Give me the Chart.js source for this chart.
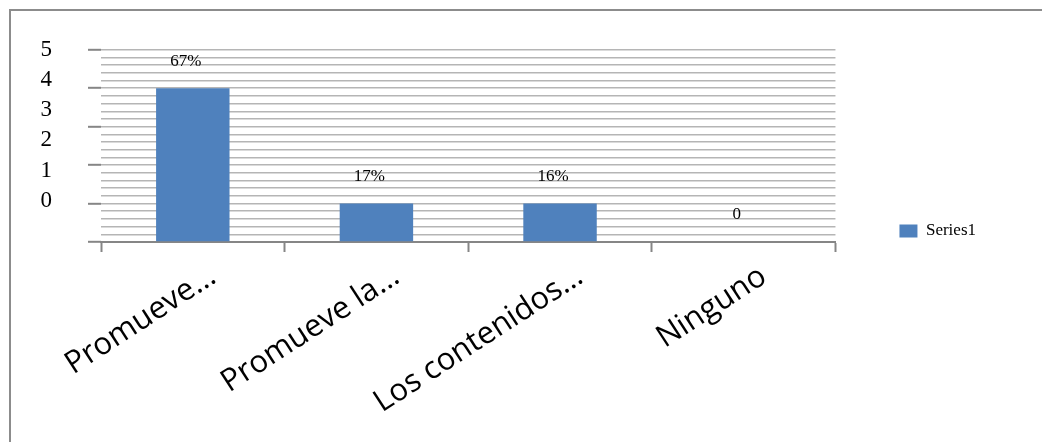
<!DOCTYPE html>
<html>
<head>
<meta charset="utf-8">
<script src="https://cdn.jsdelivr.net/npm/chart.js@4.4.1/dist/chart.umd.min.js"></script>
<style>
  html, body { margin: 0; padding: 0; background: #fff; overflow: hidden; }
  #frame { position: absolute; left: 9px; top: 9px; width: 1100px; height: 500px; border: 2px solid #8c8c8c; }
  #wrap { position: absolute; left: 0; top: 0; width: 1042px; height: 442px; }
</style>
</head>
<body>
<div id="frame"></div>
<div id="wrap"><canvas id="c"></canvas></div>
<script>
const categories = ['Promueve\u2026', 'Promueve la\u2026', 'Los contenidos\u2026', 'Ninguno'];
const seriesName = 'Series1';
const values = [4, 1, 1, 0];
const dataLabels = ['67%', '17%', '16%', '0'];
const yTickLabels = ['0', '1', '2', '3', '4', '5'];

const SERIF = '"Liberation Serif", "Times New Roman", serif';
const SANS = '"Open Sans", "Noto Sans", sans-serif';

const isWhole = v => Math.abs(v - Math.round(v)) < 1e-6;

const dataLabelPlugin = {
  id: 'dataLabelPlugin',
  afterDatasetsDraw(chart) {
    const ctx = chart.ctx;
    const meta = chart.getDatasetMeta(0);
    ctx.save();
    ctx.font = '17px ' + SERIF;
    ctx.fillStyle = '#000';
    ctx.textAlign = 'center';
    ctx.textBaseline = 'middle';
    meta.data.forEach((el, i) => {
      ctx.fillText(dataLabels[i], el.x - 7, el.y - 27);
    });
    ctx.restore();
  }
};

new Chart(document.getElementById('c'), {
  type: 'bar',
  data: {
    labels: categories,
    datasets: [{
      label: seriesName,
      data: values,
      yAxisID: 'y',
      backgroundColor: '#4f81bd',
      borderWidth: 0,
      barPercentage: 0.4,
      categoryPercentage: 1.0
    }]
  },
  options: {
    responsive: true,
    maintainAspectRatio: false,
    animation: false,
    layout: { padding: { left: 0, right: 56, top: 46, bottom: 26 } },
    plugins: {
      tooltip: { enabled: false },
      legend: {
        position: 'right',
        labels: {
          boxWidth: 18,
          boxHeight: 13,
          padding: 64,
          color: '#000',
          font: { family: SERIF, size: 17 }
        }
      }
    },
    scales: {
      x: {
        grid: {
          drawOnChartArea: false,
          drawTicks: true,
          tickLength: 10,
          tickColor: '#868686',
          tickWidth: 2,
          offset: true
        },
        border: { display: true, color: '#868686', width: 2 },
        ticks: {
          autoSkip: false,
          minRotation: 33,
          maxRotation: 33,
          labelOffset: 20,
          padding: 6,
          color: '#000',
          font: { family: SANS, size: 31 }
        },
        afterFit(scale) { scale.height = 174; }
      },
      y: {
        position: 'left',
        weight: 0,
        min: 0,
        max: 5,
        grid: {
          color: '#b5b5b5',
          lineWidth: 1.6,
          drawTicks: true,
          tickLength: 13,
          tickWidth: 2,
          tickColor: c => isWhole(c.tick.value) ? '#868686' : 'rgba(0,0,0,0)'
        },
        border: { display: false },
        ticks: {
          stepSize: 0.2,
          display: false
        },
        afterFit(scale) { scale.width = 13; }
      },
      yl: {
        position: 'left',
        weight: 1,
        min: -1.3636,
        max: 5,
        grid: { display: false, drawTicks: false },
        border: { display: false },
        ticks: {
          stepSize: 1,
          padding: 36,
          color: '#000',
          font: { family: SERIF, size: 23 },
          callback: v => (v >= -1e-6 && isWhole(v)) ? yTickLabels[Math.round(v)] : ''
        },
        afterFit(scale) { scale.width = 88; }
      }
    }
  },
  plugins: [dataLabelPlugin]
});
</script>
</body>
</html>
